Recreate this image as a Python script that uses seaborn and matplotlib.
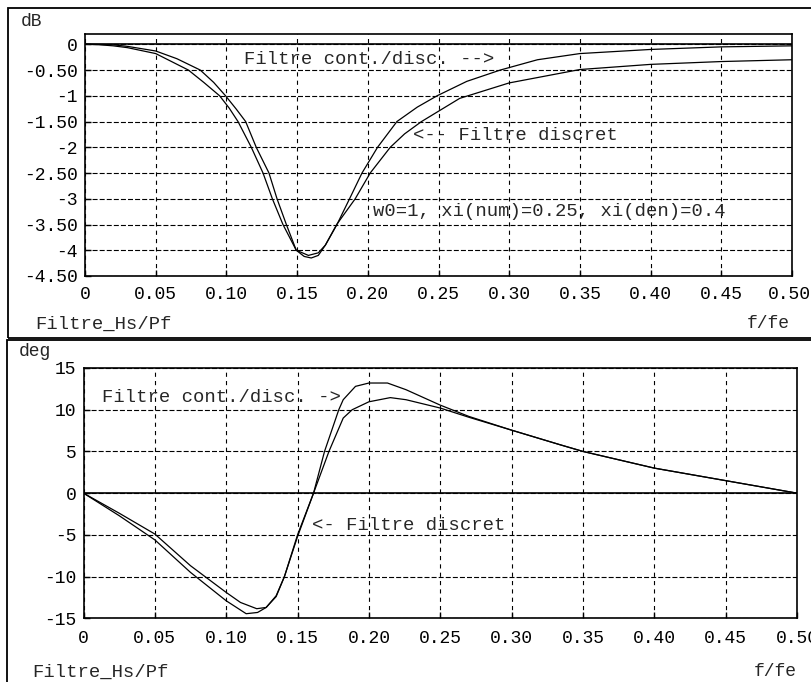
import matplotlib
matplotlib.use("Agg")
import matplotlib.pyplot as plt
import seaborn as sns
from matplotlib.patches import Rectangle
from matplotlib.transforms import ScaledTranslation

# ---------------- data ----------------
# magnitude (dB) vs f/fe
mag_x_cd = [0, 0.01, 0.02, 0.03, 0.05, 0.065, 0.0815, 0.091, 0.0994, 0.107, 0.1136, 0.1211,
            0.1301, 0.1358, 0.1424, 0.1494, 0.158, 0.165, 0.170, 0.1782, 0.1871, 0.1959,
            0.2069, 0.2206, 0.235, 0.249, 0.27, 0.2937, 0.32, 0.35, 0.40, 0.45, 0.50]
mag_y_cd = [0, -0.003, -0.01, -0.04, -0.13, -0.28, -0.5, -0.74, -1.0, -1.26, -1.5, -2.0,
            -2.5, -3.0, -3.5, -4.0, -4.10, -4.05, -3.9, -3.5, -3.0, -2.5,
            -2.0, -1.5, -1.22, -1.0, -0.72, -0.5, -0.30, -0.18, -0.10, -0.05, -0.03]
mag_x_d = [0, 0.01, 0.02, 0.03, 0.05, 0.0731, 0.084, 0.0952, 0.102, 0.1082, 0.1176, 0.1259,
           0.1325, 0.140, 0.1494, 0.155, 0.160, 0.165, 0.170, 0.178, 0.1911, 0.2017,
           0.2159, 0.226, 0.238, 0.25, 0.265, 0.30, 0.35, 0.40, 0.45, 0.50]
mag_y_d = [0, -0.008, -0.03, -0.065, -0.18, -0.5, -0.74, -1.0, -1.24, -1.5, -2.0, -2.5,
           -3.0, -3.5, -4.0, -4.12, -4.15, -4.1, -3.9, -3.5, -3.0, -2.5,
           -2.0, -1.74, -1.5, -1.3, -1.05, -0.75, -0.49, -0.39, -0.335, -0.30]

# phase (deg) vs f/fe
ph_x_cd = [0, 0.025, 0.05, 0.075, 0.10, 0.11, 0.1214, 0.128, 0.135, 0.1408, 0.15,
           0.1612, 0.1689, 0.1789, 0.182, 0.1906, 0.20, 0.213, 0.226, 0.25, 0.27,
           0.30, 0.334, 0.35, 0.40, 0.45, 0.50]
ph_y_cd = [0, -2.4, -4.9, -8.7, -11.9, -13.1, -13.85, -13.7, -12.4, -10.0, -5.0,
           0, 5.0, 10.0, 11.2, 12.8, 13.2, 13.2, 12.4, 10.55, 9.2,
           7.55, 5.8, 5.0, 3.0, 1.5, 0]
ph_x_d = [0, 0.025, 0.05, 0.075, 0.10, 0.114, 0.122, 0.128, 0.135, 0.1408, 0.15,
          0.1612, 0.172, 0.182, 0.1883, 0.20, 0.215, 0.226, 0.25, 0.27, 0.30,
          0.334, 0.35, 0.40, 0.45, 0.50]
ph_y_d = [0, -2.7, -5.6, -9.5, -12.9, -14.45, -14.3, -13.7, -12.3, -10.0, -5.2,
          0, 5.0, 9.0, 10.0, 10.95, 11.45, 11.2, 10.2, 9.1, 7.55,
          5.8, 5.0, 3.0, 1.5, 0]

x_ticks = [0, 0.05, 0.10, 0.15, 0.20, 0.25, 0.30, 0.35, 0.40, 0.45, 0.50]
x_ticklabels = ["0", "0.05", "0.10", "0.15", "0.20", "0.25", "0.30", "0.35", "0.40", "0.45", "0.50"]
mag_ticks = [-4.5, -4, -3.5, -3, -2.5, -2, -1.5, -1, -0.5, 0]
mag_ticklabels = ["-4.50", "-4", "-3.50", "-3", "-2.50", "-2", "-1.50", "-1", "-0.50", "0"]
ph_ticks = [-15, -10, -5, 0, 5, 10, 15]
ph_ticklabels = ["-15", "-10", "-5", "0", "5", "10", "15"]

# ---------------- style ----------------
sns.set_style("white")
plt.rcParams["font.family"] = ["Liberation Mono", "DejaVu Sans Mono"]
plt.rcParams["lines.scale_dashes"] = False
FS = 13.6     # annotation / label text
TFS = 13      # tick labels

W, H = 811, 682
fig = plt.figure(figsize=(W / 100, H / 100), dpi=100)
fig.patch.set_facecolor("white")


def fx(px):
    return px / W


def fy(py):
    return 1 - py / H


ax1 = fig.add_axes([fx(85), fy(276), (792 - 85) / W, (276 - 34) / H])
ax2 = fig.add_axes([fx(83.5), fy(618.3), (797 - 83.5) / W, (618.3 - 368) / H])


def style_axis(ax, yticks, yticklabels, ylim, xpad):
    ax.set_xlim(0, 0.5)
    ax.set_ylim(*ylim)
    ax.set_xticks(x_ticks)
    ax.set_xticklabels(x_ticklabels)
    ax.set_yticks(yticks)
    ax.set_yticklabels(yticklabels)
    ax.tick_params(axis="both", direction="in", length=4, width=1.0, colors="black",
                   labelsize=TFS, top=False, right=False, left=True, bottom=True)
    ax.tick_params(axis="x", pad=xpad)
    ax.tick_params(axis="y", pad=5)
    ax.xaxis.grid(True, linestyle=(0, (3, 3)), color="black", linewidth=0.8)
    ax.yaxis.grid(True, linestyle=(0, (3.6, 1.5)), color="black", linewidth=0.8)
    for s in ax.spines.values():
        s.set_visible(True)
        s.set_color("black")
        s.set_linewidth(1.2)
    ax.axhline(0, color="black", linewidth=1.2, zorder=3)
    ax.set_xlabel("")
    ax.set_ylabel("")
    ax.set_facecolor("white")


for xs, ys in [(mag_x_cd, mag_y_cd), (mag_x_d, mag_y_d)]:
    sns.lineplot(x=xs, y=ys, ax=ax1, color="black", linewidth=0.9,
                 estimator=None, sort=False, zorder=4)
for xs, ys in [(ph_x_cd, ph_y_cd), (ph_x_d, ph_y_d)]:
    sns.lineplot(x=xs, y=ys, ax=ax2, color="black", linewidth=0.9,
                 estimator=None, sort=False, zorder=4)

style_axis(ax1, mag_ticks, mag_ticklabels, (-4.5, 0.2), 7.5)
style_axis(ax2, ph_ticks, ph_ticklabels, (-15, 15), 8.5)

# keep the last top-panel x label inside the picture, as in the reference
fig.canvas.draw()
last = ax1.get_xticklabels()[-1]
last.set_transform(last.get_transform() + ScaledTranslation(-3 / 100, 0, fig.dpi_scale_trans))

# annotations inside the plots
ax1.text(0.1127, -0.30, "Filtre cont./disc. -->", fontsize=FS, ha="left", va="center")
ax1.text(0.2323, -1.77, "<-- Filtre discret", fontsize=FS, ha="left", va="center")
ax1.text(0.2037, -3.25, "w0=1, xi(num)=0.25, xi(den)=0.4", fontsize=FS, ha="left", va="center")
ax2.text(0.0132, 11.48, "Filtre cont./disc. ->", fontsize=FS, ha="left", va="center")
ax2.text(0.1599, -3.82, "<- Filtre discret", fontsize=FS, ha="left", va="center")

# panel labels
fig.text(fx(21), fy(22), "dB", fontsize=TFS, ha="left", va="center")
fig.text(fx(35), fy(324), "Filtre_Hs/Pf", fontsize=FS, ha="left", va="center")
fig.text(fx(790), fy(324), "f/fe", fontsize=TFS, ha="right", va="center")
fig.text(fx(19), fy(352), "deg", fontsize=TFS, ha="left", va="center")
fig.text(fx(32), fy(672), "Filtre_Hs/Pf", fontsize=FS, ha="left", va="center")
fig.text(fx(797), fy(672), "f/fe", fontsize=TFS, ha="right", va="center")

# outer boxes around both panels
fig.add_artist(Rectangle((fx(8), fy(337.5)), 1.1, fy(8) - fy(337.5),
                         transform=fig.transFigure, fill=False, edgecolor="black",
                         linewidth=1.3, clip_on=False))
fig.add_artist(Rectangle((fx(7), -0.1), 1.1, fy(339.5) + 0.1,
                         transform=fig.transFigure, fill=False, edgecolor="black",
                         linewidth=1.3, clip_on=False))

fig.savefig("out.png", dpi=100, facecolor="white")
